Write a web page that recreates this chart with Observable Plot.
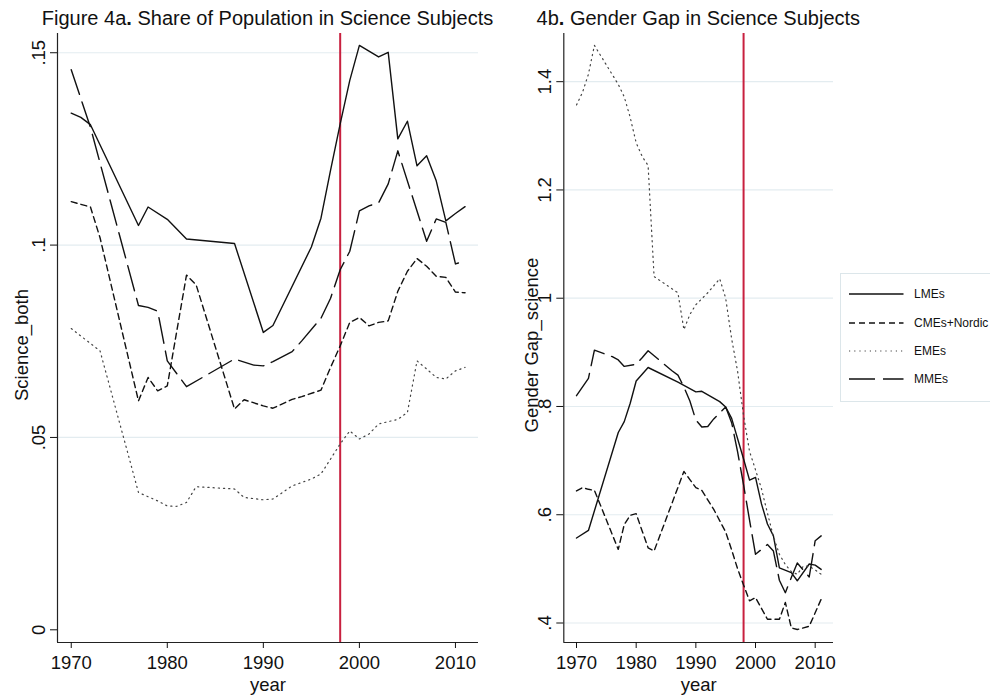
<!DOCTYPE html>
<html><head><meta charset="utf-8">
<script src="https://cdn.jsdelivr.net/npm/d3@7"></script>
<script src="https://cdn.jsdelivr.net/npm/@observablehq/plot@0.6"></script>
<style>
body{margin:0;background:#fff;font-family:"Liberation Sans",Arial,Helvetica,sans-serif;}
#root{position:relative;width:990px;height:695px;overflow:hidden;background:#fff}
.title{position:absolute;top:8px;font-size:20px;line-height:20px;color:#111;white-space:nowrap;transform:translateX(-50%)}
.panel{position:absolute;top:0}
#legend{position:absolute;left:840px;top:273px;width:200px;height:127px;border:1px solid #dce6ea;background:#fff}
.lrow{position:absolute;left:0;height:20px;width:200px}
.lrow svg{position:absolute;left:8px;top:0}
.lrow span{position:absolute;left:73px;top:3px;font-size:12px;line-height:14px;color:#111;white-space:nowrap}
</style></head><body>
<div id="root">
  <div class="title" style="left:267.5px">Figure 4a<b>.</b> Share of Population in Science Subjects</div>
  <div class="title" style="left:698.3px">4b<b>.</b> Gender Gap in Science Subjects</div>
  <div id="left" class="panel" style="left:0px"></div>
  <div id="right" class="panel" style="left:495px"></div>
  <div id="legend"></div>
</div>
<script>
// ---------- data: [year, value] ----------
const seriesNames = ["LMEs", "CMEs+Nordic", "EMEs", "MMEs"];
const xTicks = [1970, 1980, 1990, 2000, 2010];
const reformYear = 1998;

// Panel 4a: Science_both
const leftTicks = [0, 0.05, 0.1, 0.15];
const leftLMEs = [[1970,.1343],[1971,.1332],[1972,.1313],[1977,.1051],[1978,.1099],[1980,.1067],[1982,.1016],[1987,.1004],[1990,.0773],[1991,.0791],[1995,.0995],[1996,.1070],[1997,.1195],[1998,.1315],[1999,.1428],[2000,.1519],[2001,.1504],[2002,.1489],[2003,.1501],[2004,.1276],[2005,.1322],[2006,.1206],[2007,.1232],[2008,.1167],[2009,.1063],[2010,.1082],[2011,.1100]];
const leftCMEs = [[1970,.1113],[1972,.1099],[1973,.1019],[1977,.0595],[1978,.0656],[1979,.0621],[1980,.0634],[1982,.0922],[1983,.0897],[1987,.0574],[1988,.0598],[1990,.0582],[1991,.0576],[1993,.0599],[1994,.0606],[1996,.0623],[1997,.0682],[1998,.0738],[1999,.0799],[2000,.0812],[2001,.0790],[2002,.0799],[2003,.0803],[2004,.0880],[2005,.0932],[2006,.0965],[2007,.0945],[2008,.0919],[2009,.0916],[2010,.0878],[2011,.0876]];
const leftEMEs = [[1970,.0783],[1973,.0725],[1977,.0357],[1978,.0346],[1979,.0335],[1980,.0322],[1981,.0321],[1982,.0331],[1983,.0372],[1987,.0366],[1988,.0344],[1990,.0338],[1991,.0340],[1993,.0374],[1995,.0392],[1996,.0405],[1997,.0444],[1998,.0483],[1999,.0517],[2000,.0496],[2001,.0509],[2002,.0535],[2004,.0547],[2005,.0565],[2006,.0699],[2007,.0678],[2008,.0656],[2009,.0652],[2010,.0673],[2011,.0682]];
const leftMMEs = [[1970,.1456],[1972,.1306],[1977,.0843],[1978,.0838],[1979,.0828],[1980,.0699],[1982,.0632],[1987,.0704],[1989,.0688],[1990,.0686],[1991,.0697],[1993,.0723],[1994,.0751],[1996,.0810],[1997,.0862],[1998,.0936],[1999,.0984],[2000,.1089],[2001,.1102],[2002,.1110],[2003,.1159],[2004,.1245],[2007,.1010],[2008,.1068],[2009,.1059],[2010,.0951],[2011,.0959]];

// Panel 4b: Gender Gap_science
const rightTicks = [0.4, 0.6, 0.8, 1, 1.2, 1.4];
const rightLMEs = [[1970,.557],[1972,.571],[1977,.752],[1978,.772],[1979,.806],[1980,.847],[1982,.872],[1987,.845],[1990,.827],[1991,.828],[1994,.809],[1995,.799],[1996,.778],[1998,.703],[1999,.664],[2000,.669],[2001,.620],[2002,.583],[2003,.561],[2004,.502],[2006,.493],[2007,.478],[2009,.509],[2010,.507],[2011,.499]];
const rightCMEs = [[1970,.644],[1971,.650],[1972,.647],[1973,.645],[1977,.536],[1978,.582],[1979,.599],[1980,.602],[1981,.570],[1982,.539],[1983,.533],[1988,.680],[1989,.665],[1990,.650],[1991,.645],[1993,.610],[1995,.568],[1996,.535],[1997,.500],[1998,.470],[1999,.441],[2000,.447],[2002,.407],[2004,.407],[2005,.438],[2006,.391],[2007,.388],[2009,.394],[2011,.444]];
const rightEMEs = [[1970,1.357],[1971,1.380],[1972,1.414],[1973,1.467],[1977,1.395],[1978,1.372],[1979,1.334],[1980,1.287],[1981,1.262],[1982,1.245],[1983,1.040],[1987,1.010],[1988,.942],[1989,.970],[1990,.988],[1992,1.010],[1994,1.036],[1995,1.000],[1996,.925],[1997,.865],[1998,.783],[1999,.717],[2000,.683],[2001,.648],[2002,.603],[2003,.560],[2004,.527],[2005,.508],[2006,.495],[2007,.490],[2008,.505],[2009,.505],[2010,.498],[2011,.490]];
const rightMMEs = [[1970,.820],[1972,.852],[1973,.904],[1976,.892],[1977,.886],[1978,.874],[1980,.878],[1981,.890],[1982,.903],[1986,.866],[1987,.858],[1988,.836],[1989,.810],[1990,.775],[1991,.762],[1992,.763],[1993,.777],[1995,.799],[1996,.770],[1997,.716],[1998,.655],[1999,.590],[2000,.527],[2002,.545],[2003,.533],[2004,.479],[2005,.456],[2006,.484],[2007,.511],[2009,.485],[2010,.552],[2011,.561]];

// ---------- styles ----------
const lineStyles = {
  "LMEs": {stroke: "#111", width: 1.4, dash: null},
  "CMEs+Nordic": {stroke: "#111", width: 1.4, dash: "6,4"},
  "EMEs": {stroke: "#444", width: 1.2, dash: "1.2,4"},
  "MMEs": {stroke: "#111", width: 1.4, dash: "26,8"}
};
const FS = 18.5;
const fmt = d => d === 0 ? "0" : String(d).replace(/^0\./, ".");

function panel({series, xDomain, yDomain, ticks, grid, yLabel, width, marginLeft, marginRight, labelDx}) {
  const marks = [
    Plot.ruleY(grid, {stroke: "#e3ecf0", strokeWidth: 1.2}),
    Plot.ruleX([reformYear], {stroke: "#c8203f", strokeWidth: 2}),
    ...series.map(([name, data]) => {
      const s = lineStyles[name];
      return Plot.line(data, {x: d => d[0], y: d => d[1], stroke: s.stroke, strokeWidth: s.width, strokeDasharray: s.dash});
    }),
    Plot.ruleX([xDomain[0]], {stroke: "#222", strokeWidth: 1.2}),
    Plot.ruleY([yDomain[0]], {stroke: "#222", strokeWidth: 1.2}),
    Plot.axisX({ticks: xTicks, tickSize: 6, tickPadding: 7, tickFormat: d => String(d), fontSize: FS, label: null}),
    Plot.axisY({ticks, tickSize: 7, tickFormat: () => "", label: null}),
    Plot.text(ticks, {y: d => d, frameAnchor: "left", text: fmt, rotate: -90, dx: -13, lineAnchor: "bottom", textAnchor: "middle", fontSize: FS}),
    Plot.text([yLabel], {frameAnchor: "left", text: d => d, rotate: -90, dx: labelDx, dy: 7, lineAnchor: "bottom", textAnchor: "middle", fontSize: FS}),
    Plot.text(["year"], {frameAnchor: "bottom", text: d => d, dy: 48, lineAnchor: "bottom", fontSize: FS})
  ];
  return Plot.plot({
    width, height: 695, marginTop: 33, marginBottom: 53, marginLeft, marginRight,
    x: {domain: xDomain}, y: {domain: yDomain},
    style: {fontFamily: "'Liberation Sans', Arial, sans-serif", color: "#111", background: "transparent", overflow: "visible"},
    marks
  });
}

document.getElementById("left").appendChild(panel({
  series: [["LMEs", leftLMEs], ["CMEs+Nordic", leftCMEs], ["EMEs", leftEMEs], ["MMEs", leftMMEs]],
  xDomain: [1968.57, 2012.4], yDomain: [-0.0033, 0.155],
  ticks: leftTicks, grid: leftTicks.filter(d => d > 0), yLabel: "Science_both",
  width: 490, marginLeft: 57, marginRight: 12, labelDx: -30
}));
document.getElementById("right").appendChild(panel({
  series: [["LMEs", rightLMEs], ["CMEs+Nordic", rightCMEs], ["EMEs", rightEMEs], ["MMEs", rightMMEs]],
  xDomain: [1967.87, 2013.07], yDomain: [0.364, 1.489],
  ticks: rightTicks, grid: rightTicks, yLabel: "Gender Gap_science",
  width: 345, marginLeft: 68.3, marginRight: 7, labelDx: -25.8
}));

// legend
const legend = document.getElementById("legend");
const rowY = [19.7, 48.5, 77.3, 105.3];
seriesNames.forEach((name, i) => {
  const s = lineStyles[name];
  const row = document.createElement("div");
  row.className = "lrow";
  row.style.top = (rowY[i] - 10) + "px";
  row.innerHTML = `<svg width="56" height="20"><line x1="0" x2="54.5" y1="10" y2="10" stroke="${s.stroke}" stroke-width="${s.width}" ${s.dash ? `stroke-dasharray="${s.dash}"` : ""}/></svg><span>${name}</span>`;
  legend.appendChild(row);
});
</script>
</body></html>
